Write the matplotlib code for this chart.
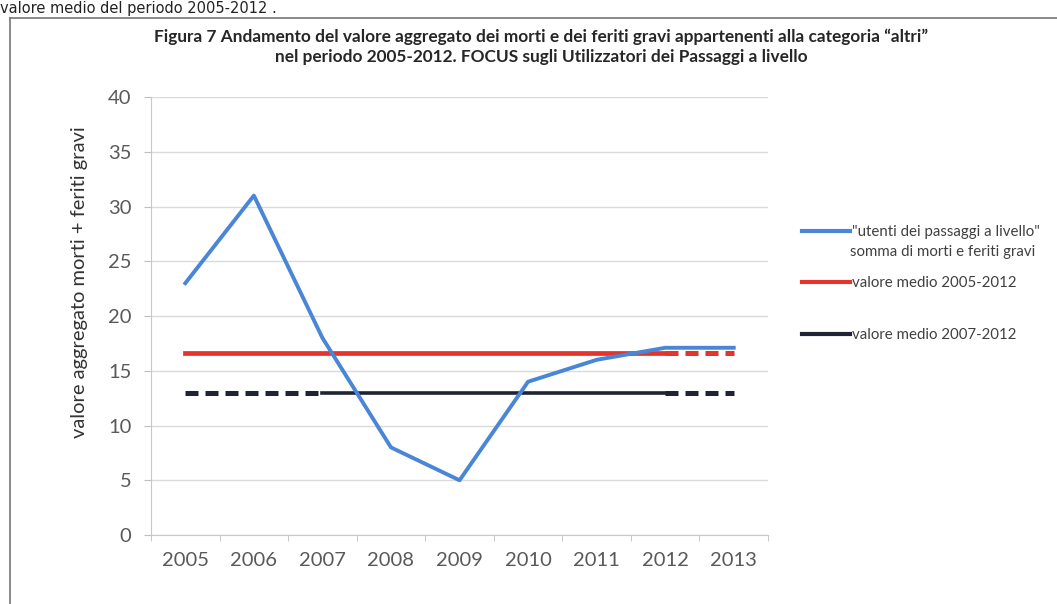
import numpy as np
import matplotlib.pyplot as plt
from matplotlib.lines import Line2D

anni = ['2005', '2006', '2007', '2008', '2009', '2010', '2011', '2012', '2013']
utenti = [23, 31, 18, 8, 5, 14, 16, 17.1, 17.1]
media_05_12 = [16.6] * 9
media_07_12 = [13.0] * 9

titolo = ('Figura 7 Andamento del valore aggregato dei morti e dei feriti gravi appartenenti alla categoria \u201caltri\u201d\n'
          'nel periodo 2005-2012. FOCUS sugli Utilizzatori dei Passaggi a livello')
etichette = ['"utenti dei passaggi a livello"', 'valore medio 2005-2012', 'valore medio 2007-2012']

plt.rcParams['font.family'] = ['Lato', 'DejaVu Sans']

blu = '#4A86D8'
rosso = '#E5342C'
nero = '#1E2433'
grigio = '#595959'

fig = plt.figure(figsize=(10.57, 6.04), dpi=100)
ax = fig.add_axes([0.1429, 0.1142, 0.5837, 0.7252])

x = np.arange(len(anni))

# medie: tratti continui e tratteggiati come nell'originale
ax.plot(x[:3], media_07_12[:3], color=nero, lw=3.6, dashes=(2.6, 1.4), zorder=2)
linea_nero, = ax.plot(x[2:8], media_07_12[2:8], color=nero, lw=2.6, zorder=2)
ax.plot(x[7:], media_07_12[7:], color=nero, lw=3.6, dashes=(2.6, 1.4), zorder=2)

linea_rosso, = ax.plot(x[:8], media_05_12[:8], color=rosso, lw=3.4, zorder=3)
ax.plot(x[7:], media_05_12[7:], color=rosso, lw=3.6, dashes=(2.6, 1.4), zorder=3)

linea_blu, = ax.plot(x, utenti, color=blu, lw=2.8, zorder=4)

ax.set_xlim(-0.5, len(anni) - 0.5)
ax.set_ylim(0, 40)
ax.set_yticks(np.arange(0, 41, 5))
ax.set_xticks(x)
ax.set_xticklabels(anni)
ax.set_xticks(np.arange(-0.5, len(anni), 1), minor=True)
ax.tick_params(axis='x', which='major', length=0, pad=12, labelsize=14.5, labelcolor=grigio)
ax.tick_params(axis='x', which='minor', length=4, color='#BFBFBF')
ax.tick_params(axis='y', length=5, color='#BFBFBF', pad=9, labelsize=14.5, labelcolor=grigio)

ax.grid(axis='y', color='#DADADA', lw=1)
ax.set_axisbelow(True)
for lato in ['top', 'right']:
    ax.spines[lato].set_visible(False)
ax.spines['left'].set_color('#C8C8C8')
ax.spines['bottom'].set_color('#C8C8C8')

ax.set_ylabel('valore aggregato morti + feriti gravi', fontsize=14.5, color='#333333')
ax.yaxis.set_label_coords(-0.102, 0.578)

fig.text(0.512, 0.923, titolo, ha='center', va='center', fontsize=12.4,
         fontweight='bold', color='#262626', linespacing=1.3)

leg = fig.legend([linea_blu, linea_rosso, linea_nero], etichette,
                 loc='upper left', bbox_to_anchor=(0.746, 0.65),
                 frameon=False, fontsize=10.8, handlelength=3.2,
                 handletextpad=0.1, labelspacing=2.5, labelcolor='#404040')
for h in leg.legend_handles:
    h.set_linewidth(3)
    h.set_dashes([])
fig.text(0.804, 0.582, 'somma di morti e feriti gravi', fontsize=10.8, color='#404040',
         va='center')

# cornice del riquadro e testo in alto
fig.add_artist(Line2D([0.0095, 0.0095], [0.0, 0.97], color='#777777', lw=1.2))
fig.add_artist(Line2D([0.0095, 1.0], [0.97, 0.97], color='#777777', lw=1.2))
fig.text(0.0, 0.9785, 'valore medio del periodo 2005-2012 .', fontsize=10.5,
         color='#222222', va='baseline', family=['DejaVu Sans'])

fig.savefig('out.png', dpi=100)
